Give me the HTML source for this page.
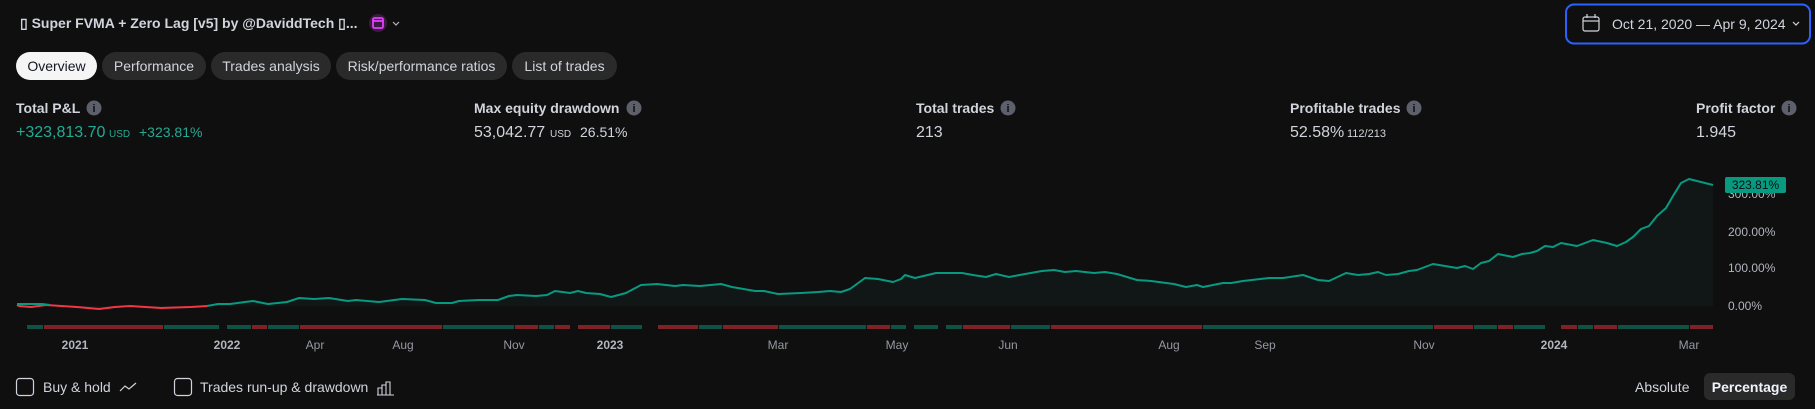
<!DOCTYPE html>
<html><head><meta charset="utf-8"><style>
html,body{margin:0;padding:0;background:#0f0f0f;width:1815px;height:409px;overflow:hidden}
svg{display:block;font-family:"Liberation Sans",Arial,sans-serif}
</style></head><body>
<svg width="1815" height="409" viewBox="0 0 1815 409" xmlns="http://www.w3.org/2000/svg">
<rect width="1815" height="409" fill="#0f0f0f"/>
<!-- title -->
<text x="20" y="28" font-size="14" font-weight="bold" fill="#d1d4dc">▯ Super FVMA + Zero Lag [v5] by @DaviddTech ▯...</text>
<rect x="369" y="14" width="18" height="18" rx="9" fill="#3a1a40"/>
<rect x="373" y="18" width="10" height="10" rx="1.5" fill="none" stroke="#e040fb" stroke-width="1.8"/>
<line x1="373" y1="21" x2="383" y2="21" stroke="#e040fb" stroke-width="1.8"/>
<path d="M393 22 l3 3 l3 -3" fill="none" stroke="#b2b5be" stroke-width="1.2"/>
<!-- date box -->
<rect x="1566" y="4.5" width="244" height="39" rx="8" fill="none" stroke="#2962ff" stroke-width="2"/>
<rect x="1583" y="17" width="16" height="14" rx="2" fill="none" stroke="#d1d4dc" stroke-width="1.2"/>
<line x1="1583" y1="21" x2="1599" y2="21" stroke="#d1d4dc" stroke-width="1.2"/>
<line x1="1587" y1="14" x2="1587" y2="18" stroke="#d1d4dc" stroke-width="1.2"/>
<line x1="1595" y1="14" x2="1595" y2="18" stroke="#d1d4dc" stroke-width="1.2"/>
<text x="1612" y="29" font-size="14" fill="#d1d4dc">Oct 21, 2020 — Apr 9, 2024</text>
<path d="M1793 22 l3 3 l3 -3" fill="none" stroke="#d1d4dc" stroke-width="1.2"/>
<!-- tabs -->
<rect x="16" y="52" width="81" height="28" rx="14" fill="#f5f5f5"/>
<text x="56.5" y="71" font-size="14" fill="#131722" text-anchor="middle">Overview</text>
<rect x="102" y="52" width="104" height="28" rx="14" fill="#2a2a2a"/>
<text x="154" y="71" font-size="14" fill="#d1d4dc" text-anchor="middle">Performance</text>
<rect x="211" y="52" width="120" height="28" rx="14" fill="#2a2a2a"/>
<text x="271" y="71" font-size="14" fill="#d1d4dc" text-anchor="middle">Trades analysis</text>
<rect x="336" y="52" width="171" height="28" rx="14" fill="#2a2a2a"/>
<text x="421.5" y="71" font-size="14" fill="#d1d4dc" text-anchor="middle">Risk/performance ratios</text>
<rect x="512" y="52" width="105" height="28" rx="14" fill="#2a2a2a"/>
<text x="564.5" y="71" font-size="14" fill="#d1d4dc" text-anchor="middle">List of trades</text>
<!-- stats labels -->
<g font-size="14" font-weight="bold" fill="#d1d4dc">
<text x="16" y="113">Total P&amp;L</text>
<text x="474" y="113">Max equity drawdown</text>
<text x="916" y="113">Total trades</text>
<text x="1290" y="113">Profitable trades</text>
<text x="1696" y="113">Profit factor</text>
</g>
<g fill="#5d606b">
<circle cx="94" cy="108" r="7.5"/><circle cx="634" cy="108" r="7.5"/><circle cx="1008" cy="108" r="7.5"/><circle cx="1414" cy="108" r="7.5"/><circle cx="1789" cy="108" r="7.5"/>
</g>
<g font-size="11" font-weight="bold" fill="#0f0f0f" text-anchor="middle">
<text x="94" y="112">i</text><text x="634" y="112">i</text><text x="1008" y="112">i</text><text x="1414" y="112">i</text><text x="1789" y="112">i</text>
</g>
<text x="16" y="137" font-size="16" fill="#22ab94">+323,813.70</text>
<text x="109" y="137" font-size="10" fill="#22ab94">USD</text>
<text x="139" y="137" font-size="14" fill="#22ab94">+323.81%</text>
<text x="474" y="137" font-size="16" fill="#d1d4dc">53,042.77</text>
<text x="550" y="137" font-size="10" fill="#d1d4dc">USD</text>
<text x="580" y="137" font-size="14" fill="#d1d4dc">26.51%</text>
<text x="916" y="137" font-size="16" fill="#d1d4dc">213</text>
<text x="1290" y="137" font-size="16" fill="#d1d4dc">52.58%</text>
<text x="1347" y="137" font-size="11" fill="#d1d4dc">112/213</text>
<text x="1696" y="137" font-size="16" fill="#d1d4dc">1.945</text>
<!-- chart fill -->
<polygon fill="#111716" points="17,305 19,306 31,307 46,305 77,307 99,309 115,307 130,306 161,308 191,307 207,306 218,304 230,304 245,302 253,301 268,304 287,302 299,298 314,299 329,298 348,301 356,300 379,302 402,299 425,300 436,303 452,303 459,301 478,300 498,300 509,296 517,295 536,296 547,295 555,291 570,293 578,291 586,293 600,294 611,297 626,293 641,285 657,284 675,286 683,285 700,286 721,284 732,287 755,291 764,291 778,294 801,293 818,292 830,291 841,292 850,289 865,278 878,279 893,282 901,279 905,275 915,278 936,273 962,273 973,275 986,277 996,274 1009,277 1025,274 1042,271 1054,270 1065,272 1076,271 1094,273 1105,272 1117,274 1137,280 1151,281 1174,284 1186,287 1197,285 1203,287 1223,283 1231,283 1243,281 1269,278 1283,278 1303,275 1318,280 1329,281 1346,273 1358,275 1369,274 1378,272 1386,275 1398,274 1409,271 1417,270 1433,264 1457,268 1465,266 1473,269 1481,263 1489,261 1498,254 1513,257 1522,254 1530,253 1537,251 1545,246 1553,247 1561,243 1577,246 1593,240 1607,243 1617,246 1626,242 1633,237 1641,229 1649,226 1657,216 1666,208 1673,196 1681,183 1689,179 1713,185 1713,306 17,306"/>
<polyline fill="none" stroke="#f23645" stroke-width="2" stroke-linejoin="round" points="17,305 19,306 31,307 46,305 77,307 99,309 115,307 130,306 161,308 191,307 207,306"/>
<polyline fill="none" stroke="#089981" stroke-width="2" stroke-linejoin="round" points="17,304 42,304 50,305"/>
<polyline fill="none" stroke="#089981" stroke-width="2" stroke-linejoin="round" points="207,306 218,304 230,304 245,302 253,301 268,304 287,302 299,298 314,299 329,298 348,301 356,300 379,302 402,299 425,300 436,303 452,303 459,301 478,300 498,300 509,296 517,295 536,296 547,295 555,291 570,293 578,291 586,293 600,294 611,297 626,293 641,285 657,284 675,286 683,285 700,286 721,284 732,287 755,291 764,291 778,294 801,293 818,292 830,291 841,292 850,289 865,278 878,279 893,282 901,279 905,275 915,278 936,273 962,273 973,275 986,277 996,274 1009,277 1025,274 1042,271 1054,270 1065,272 1076,271 1094,273 1105,272 1117,274 1137,280 1151,281 1174,284 1186,287 1197,285 1203,287 1223,283 1231,283 1243,281 1269,278 1283,278 1303,275 1318,280 1329,281 1346,273 1358,275 1369,274 1378,272 1386,275 1398,274 1409,271 1417,270 1433,264 1457,268 1465,266 1473,269 1481,263 1489,261 1498,254 1513,257 1522,254 1530,253 1537,251 1545,246 1553,247 1561,243 1577,246 1593,240 1607,243 1617,246 1626,242 1633,237 1641,229 1649,226 1657,216 1666,208 1673,196 1681,183 1689,179 1713,185"/>
<!-- y labels -->
<g font-size="12" fill="#b2b5be">
<text x="1728" y="310">0.00%</text>
<text x="1728" y="272">100.00%</text>
<text x="1728" y="236">200.00%</text>
<text x="1728" y="198">300.00%</text>
</g>
<rect x="1725" y="177" width="61" height="16" rx="2" fill="#089981"/>
<text x="1755.5" y="189" font-size="12" fill="#0f0f0f" text-anchor="middle">323.81%</text>
<!-- trade bars -->
<g>
<rect x="27" y="325" width="16" height="4" fill="#0d5245"/>
<rect x="44" y="325" width="119" height="4" fill="#7f2227"/>
<rect x="164" y="325" width="55" height="4" fill="#0d5245"/>
<rect x="227" y="325" width="24" height="4" fill="#0d5245"/>
<rect x="252" y="325" width="15" height="4" fill="#7f2227"/>
<rect x="268" y="325" width="31" height="4" fill="#0d5245"/>
<rect x="300" y="325" width="142" height="4" fill="#7f2227"/>
<rect x="443" y="325" width="71" height="4" fill="#0d5245"/>
<rect x="515" y="325" width="23" height="4" fill="#7f2227"/>
<rect x="539" y="325" width="15" height="4" fill="#0d5245"/>
<rect x="555" y="325" width="15" height="4" fill="#7f2227"/>
<rect x="578" y="325" width="32" height="4" fill="#7f2227"/>
<rect x="611" y="325" width="31" height="4" fill="#0d5245"/>
<rect x="658" y="325" width="40" height="4" fill="#7f2227"/>
<rect x="699" y="325" width="23" height="4" fill="#0d5245"/>
<rect x="723" y="325" width="55" height="4" fill="#7f2227"/>
<rect x="779" y="325" width="87" height="4" fill="#0d5245"/>
<rect x="867" y="325" width="23" height="4" fill="#7f2227"/>
<rect x="891" y="325" width="15" height="4" fill="#0d5245"/>
<rect x="914" y="325" width="24" height="4" fill="#0d5245"/>
<rect x="946" y="325" width="16" height="4" fill="#0d5245"/>
<rect x="963" y="325" width="47" height="4" fill="#7f2227"/>
<rect x="1011" y="325" width="39" height="4" fill="#0d5245"/>
<rect x="1051" y="325" width="151" height="4" fill="#7f2227"/>
<rect x="1203" y="325" width="230" height="4" fill="#0d5245"/>
<rect x="1434" y="325" width="39" height="4" fill="#7f2227"/>
<rect x="1474" y="325" width="23" height="4" fill="#0d5245"/>
<rect x="1498" y="325" width="15" height="4" fill="#7f2227"/>
<rect x="1514" y="325" width="31" height="4" fill="#0d5245"/>
<rect x="1561" y="325" width="16" height="4" fill="#7f2227"/>
<rect x="1578" y="325" width="15" height="4" fill="#0d5245"/>
<rect x="1594" y="325" width="23" height="4" fill="#7f2227"/>
<rect x="1618" y="325" width="71" height="4" fill="#0d5245"/>
<rect x="1690" y="325" width="23" height="4" fill="#7f2227"/>
</g>
<!-- x labels -->
<g font-size="12" fill="#9598a1" text-anchor="middle">
<text x="75" y="349" font-weight="bold" fill="#b2b5be">2021</text>
<text x="227" y="349" font-weight="bold" fill="#b2b5be">2022</text>
<text x="315" y="349">Apr</text>
<text x="403" y="349">Aug</text>
<text x="514" y="349">Nov</text>
<text x="610" y="349" font-weight="bold" fill="#b2b5be">2023</text>
<text x="778" y="349">Mar</text>
<text x="897" y="349">May</text>
<text x="1008" y="349">Jun</text>
<text x="1169" y="349">Aug</text>
<text x="1265" y="349">Sep</text>
<text x="1424" y="349">Nov</text>
<text x="1554" y="349" font-weight="bold" fill="#b2b5be">2024</text>
<text x="1689" y="349">Mar</text>
</g>
<!-- bottom controls -->
<rect x="16.5" y="378.5" width="17" height="17" rx="3" fill="none" stroke="#d1d4dc" stroke-width="1.2"/>
<text x="43" y="392" font-size="14" fill="#d1d4dc">Buy &amp; hold</text>
<path d="M120 391 l5 -5 l4 3 l7 -6" fill="none" stroke="#d1d4dc" stroke-width="1.2"/>
<rect x="174.5" y="378.5" width="17" height="17" rx="3" fill="none" stroke="#d1d4dc" stroke-width="1.2"/>
<text x="200" y="392" font-size="14" fill="#d1d4dc">Trades run-up &amp; drawdown</text>
<path d="M378 395 v-7 h4 v7 M382 395 v-10 h4 v10 M386 395 v-13 h4 v13 M377 395 h17" fill="none" stroke="#d1d4dc" stroke-width="1.1"/>
<text x="1635" y="392" font-size="14" fill="#d1d4dc">Absolute</text>
<rect x="1704" y="373" width="91" height="27" rx="6" fill="#2a2a2a"/>
<text x="1749.5" y="392" font-size="14" font-weight="bold" fill="#f0f3fa" text-anchor="middle">Percentage</text>
</svg>
</body></html>
